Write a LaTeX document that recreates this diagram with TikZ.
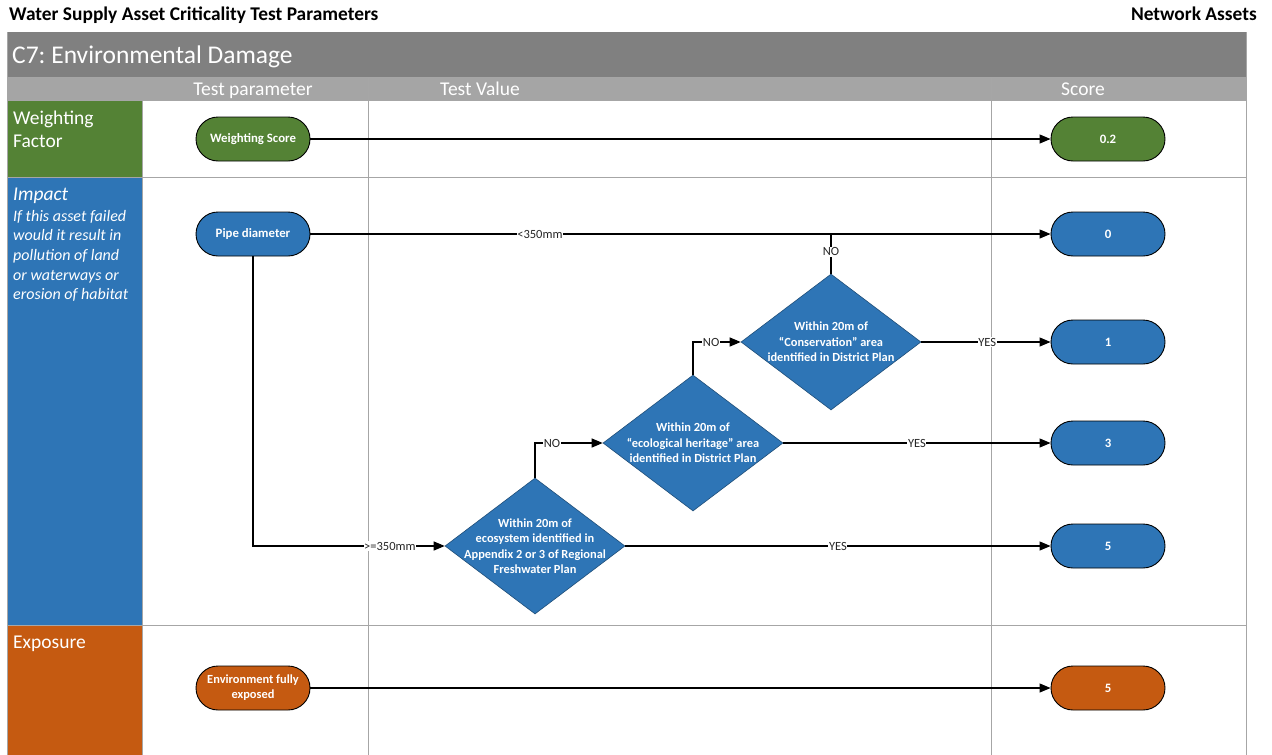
\documentclass[tikz,border=0pt]{standalone}
\usepackage{fontspec}
\setmainfont{Carlito}
\usetikzlibrary{arrows.meta,shapes.geometric}
\frenchspacing

\definecolor{cgreen}{HTML}{548235}
\definecolor{cblue}{HTML}{2E75B6}
\definecolor{corange}{HTML}{C55A11}
\definecolor{ctitle}{HTML}{808080}
\definecolor{chead}{HTML}{A5A5A5}
\definecolor{cgrid}{HTML}{A6A6A6}
\definecolor{cdborder}{HTML}{1F4E79}

\begin{document}
\begin{tikzpicture}[x=1pt,y=-1pt,
  pill/.style={draw=black, line width=0.9pt, rounded corners=22pt, minimum width=114pt, minimum height=44pt, inner sep=2pt, text=white, font=\fontsize{12.8}{15}\selectfont\bfseries, align=center},
  dia/.style={diamond, draw=cdborder, line width=0.6pt, fill=cblue, minimum width=180pt, minimum height=136pt, inner sep=0pt},
  dtext/.style={text=white, font=\fontsize{12.4}{15.5}\selectfont\bfseries, align=center},
  conn/.style={line width=1.1pt, -{Triangle[length=11pt,width=9pt]}},
  plain/.style={line width=1.1pt},
  lbl/.style={fill=white, inner sep=0.6pt, font=\fontsize{12.5}{14}\selectfont, text=black!85},
  gridline/.style={draw=cgrid, line width=0.8pt},
  side/.style={anchor=north west, text=white, align=left, inner sep=0pt},
  colhead/.style={text=white, font=\fontsize{19.5}{22}\selectfont, inner sep=0pt, anchor=base},
]
\useasboundingbox (0,0) rectangle (1272,755);
\fill[white] (0,0) rectangle (1272,755);

% page header
\node[anchor=base west, inner sep=0pt, font=\fontsize{19.4}{22}\selectfont\bfseries] (doctitle) at (9,20) {Water Supply Asset Criticality Test Parameters};
\node[anchor=base east, inner sep=0pt, font=\fontsize{19.4}{22}\selectfont\bfseries] (docright) at (1257,20) {Network Assets};

% table backgrounds
\fill[ctitle] (7,32) rectangle (1246,77);
\fill[chead] (7,77) rectangle (1246,100);
\fill[cgreen] (7,100) rectangle (142,177);
\fill[cblue] (7,177) rectangle (142,625);
\fill[corange] (7,625) rectangle (142,755);

% grid
\draw[gridline] (7,77) -- (1246,77);
\draw[gridline] (7,100) -- (1246,100);
\draw[gridline] (7,177) -- (1246,177);
\draw[gridline] (7,625) -- (1246,625);
\draw[gridline] (7,32) -- (7,755);
\draw[gridline] (142,100) -- (142,755);
\draw[gridline] (368,77) -- (368,755);
\draw[gridline] (991,77) -- (991,755);
\draw[gridline] (1246,32) -- (1246,755);

% titles
\node[anchor=base west, text=white, inner sep=0pt, font=\fontsize{25.5}{28}\selectfont] (title) at (12,63) {C7: Environmental Damage};
\node[colhead] (h1) at (253,95) {Test parameter};
\node[colhead] (h2) at (480,95) {Test Value};
\node[colhead] (h3) at (1083,95) {Score};

% side labels
\node[side, font=\fontsize{19.5}{23}\selectfont] (sw) at (13,111) {Weighting\\Factor};
\node[side, font=\fontsize{19.5}{22}\selectfont\itshape] (si) at (13,188) {Impact};
\node[side, font=\fontsize{16}{19.6}\selectfont\itshape] (sid) at (13,210) {If this asset failed\\would it result in\\pollution of land\\or waterways or\\erosion of habitat};
\node[side, font=\fontsize{19.5}{22}\selectfont] (se) at (13,636) {Exposure};

% nodes
\node[pill, fill=cgreen] (ws) at (253,139) {Weighting Score};
\node[pill, fill=cgreen] (s02) at (1108,139) {0.2};
\node[pill, fill=cblue] (pd) at (253,234) {Pipe diameter};
\node[pill, fill=cblue] (s0) at (1108,234) {0};
\node[pill, fill=cblue] (s1) at (1108,342) {1};
\node[pill, fill=cblue] (s3) at (1108,443) {3};
\node[pill, fill=cblue] (s5) at (1108,546) {5};
\node[pill, fill=corange, font=\fontsize{12.4}{15}\selectfont\bfseries] (env) at (253,688) {Environment fully\\exposed};
\node[pill, fill=corange] (s5e) at (1108,688) {5};

\node[dia, label={[dtext]center:{Within 20m of\\ecosystem identified in\\Appendix 2 or 3 of Regional\\Freshwater Plan}}] (d1) at (535,546) {};
\node[dia, label={[dtext]center:{Within 20m of\\\textquotedblleft ecological heritage\textquotedblright{} area\\identified in District Plan}}] (d2) at (693,443) {};
\node[dia, label={[dtext]center:{Within 20m of\\\textquotedblleft Conservation\textquotedblright{} area\\identified in District Plan}}] (d3) at (831,342) {};

% connectors
\draw[conn] (ws) -- (s02);
\draw[conn] (pd) -- node[lbl, pos=0.31] {<350mm} (s0);
\draw[conn] (pd.south) |- node[lbl, pos=0.857] {>=350mm} (d1.west);
\draw[conn] (d1.north) |- node[lbl, pos=0.625] {NO} (d2.west);
\draw[conn] (d1.east) -- node[lbl, pos=0.5] {YES} (s5);
\draw[conn] (d2.north) |- node[lbl, pos=0.69] {NO} (d3.west);
\draw[conn] (d2.east) -- node[lbl, pos=0.5] {YES} (s3);
\draw[plain] (d3.north) -- node[lbl, pos=0.55] {NO} (d3.north |- pd.east);
\draw[conn] (d3.east) -- node[lbl, pos=0.51] {YES} (s1);
\draw[conn] (env) -- (s5e);

\end{tikzpicture}
\end{document}
